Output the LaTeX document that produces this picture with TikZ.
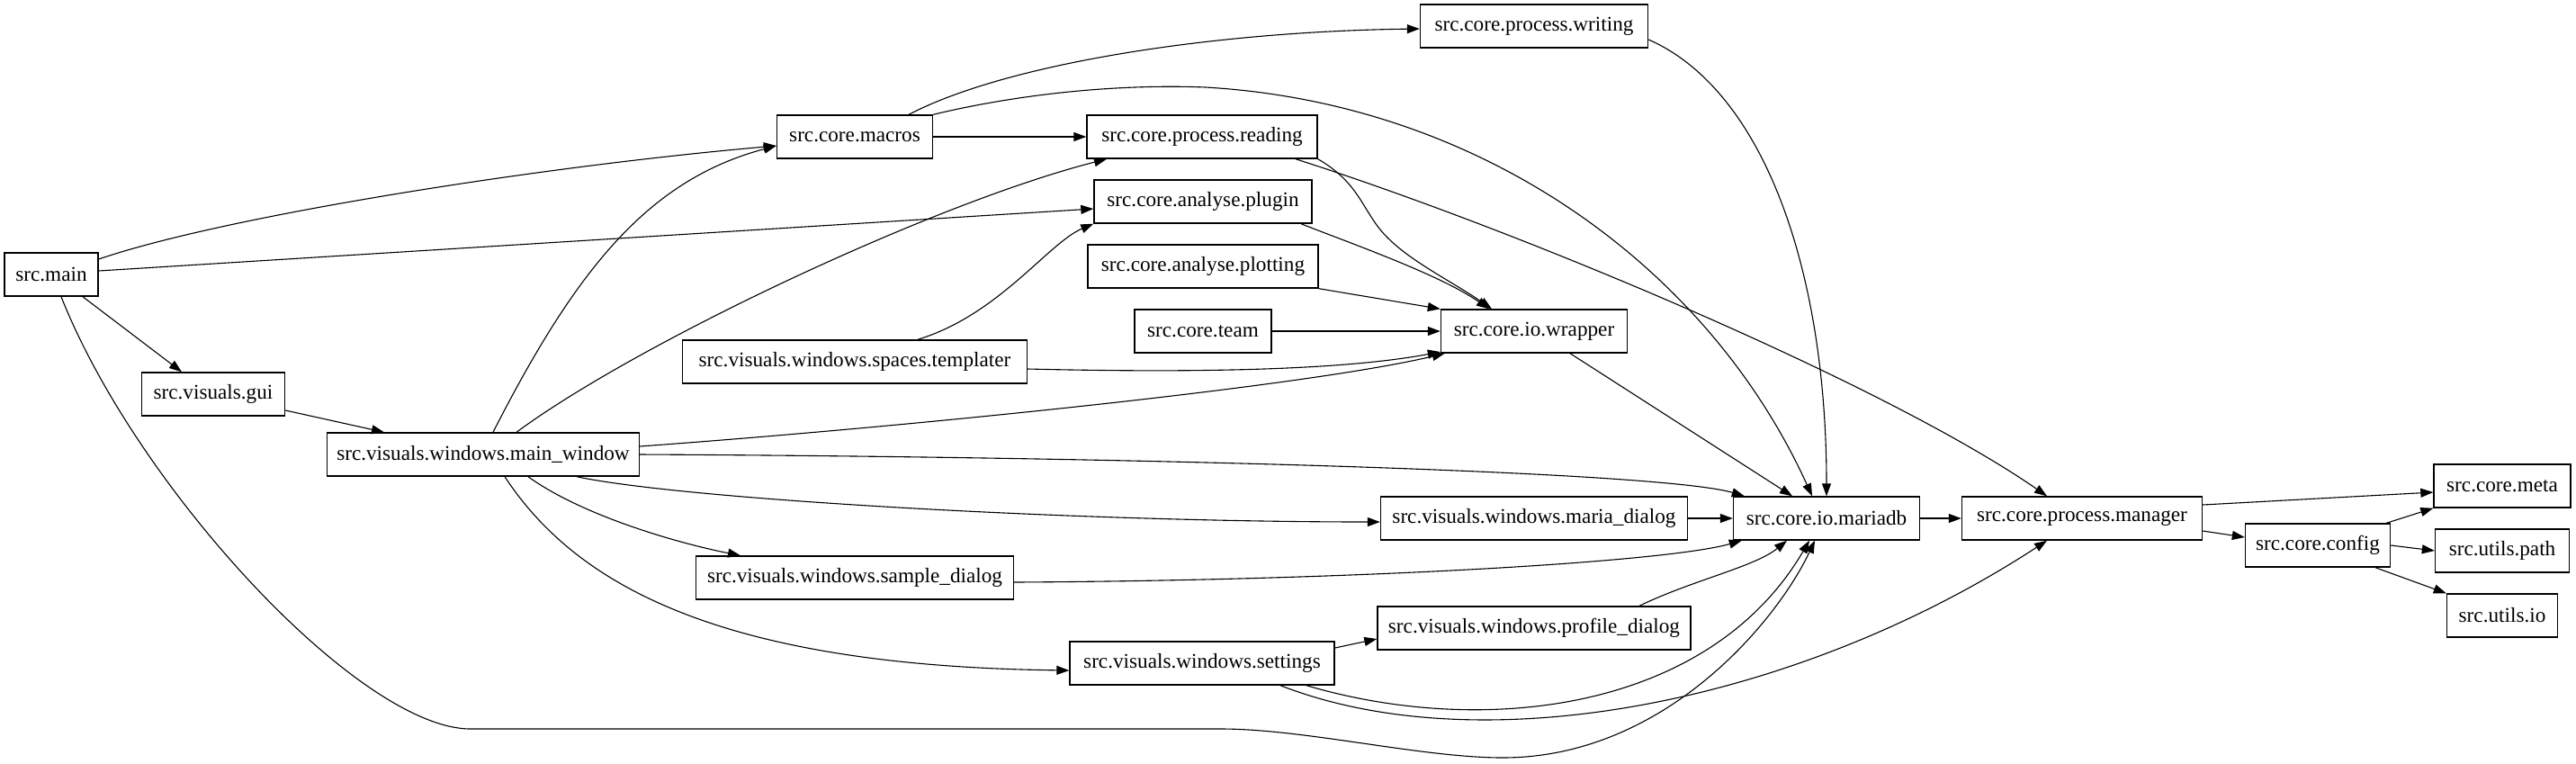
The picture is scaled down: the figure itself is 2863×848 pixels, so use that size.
\documentclass[tikz,border=0pt]{standalone}
\usepackage{fontspec}
\setmainfont{Liberation Serif}
\usetikzlibrary{arrows.meta}
\tikzset{
    % Module boxes
    modbox/.style={
        rectangle,
        draw=black,
        line width=0.7pt,
        minimum height=24pt,
        inner xsep=4pt,
        text centered,
        font=\fontsize{11.6}{14}\selectfont
    },
    % Import arrows
    deparrow/.style={
        -{Triangle[length=7pt,width=5pt]},
        line width=0.55pt,
        black
    }
}

\begin{document}
\begin{tikzpicture}[x=0.5pt,y=-0.5pt]
    \useasboundingbox (0,0) rectangle (2863,848);

    % Entry and windows
    \node[modbox,minimum width=52pt] (main) at (57,305) {src.main};
    \node[modbox,minimum width=79.5pt] (gui) at (237,438) {src.visuals.gui};
    \node[modbox,minimum width=173.5pt] (mainwin) at (537,505) {src.visuals.windows.main\_window};
    \node[modbox,minimum width=191.5pt] (templater) at (950,402) {src.visuals.windows.spaces.templater};
    \node[modbox,minimum width=176.5pt] (sample) at (950,642) {src.visuals.windows.sample\_dialog};
    \node[modbox,minimum width=147pt] (settings) at (1336,737) {src.visuals.windows.settings};
    \node[modbox,minimum width=170.5pt] (maria) at (1705,576) {src.visuals.windows.maria\_dialog};
    \node[modbox,minimum width=174pt] (profile) at (1705,698) {src.visuals.windows.profile\_dialog};

    % Core
    \node[modbox,minimum width=86.5pt] (macros) at (950,152) {src.core.macros};
    \node[modbox,minimum width=128pt] (reading) at (1336,152) {src.core.process.reading};
    \node[modbox,minimum width=121pt] (plugin) at (1337,224) {src.core.analyse.plugin};
    \node[modbox,minimum width=128pt] (plotting) at (1337,296) {src.core.analyse.plotting};
    \node[modbox,minimum width=76pt] (team) at (1337,368) {src.core.team};
    \node[modbox,minimum width=103.5pt] (wrapper) at (1705,368) {src.core.io.wrapper};
    \node[modbox,minimum width=126.5pt] (writing) at (1705,29) {src.core.process.writing};
    \node[modbox,minimum width=103.5pt] (mariadb) at (2030,576) {src.core.io.mariadb};
    \node[modbox,minimum width=133.5pt] (manager) at (2314,576) {src.core.process.manager};
    \node[modbox,minimum width=80.5pt] (config) at (2576,606) {src.core.config};

    % Leaves
    \node[modbox,minimum width=76pt] (meta) at (2781,540) {src.core.meta};
    \node[modbox,minimum width=74.5pt] (upath) at (2781,612) {src.utils.path};
    \node[modbox,minimum width=61.5pt] (uio) at (2781,684) {src.utils.io};

    % src.main
    \draw[deparrow] ([yshift=8.5pt]main.east) .. controls (250,240) and (600,185) .. ([yshift=-5pt]macros.west);
    \draw[deparrow] ([yshift=2pt]main.east) -- ([yshift=-4pt]plugin.west);
    \draw[deparrow] ([xshift=17.5pt]main.south) -- ([xshift=-17.5pt]gui.north);
    \draw[deparrow] ([xshift=5.5pt]main.south) .. controls (152,542) and (400,810) .. (523,810) -- (1357,810)
        .. controls (1450,810) and (1580,842) .. (1670,842) .. controls (1850,842) and (1975,690) .. ([xshift=-6.5pt]mariadb.south);

    % src.visuals.gui
    \draw[deparrow] ([yshift=-9pt]gui.east) -- ([xshift=-55pt]mainwin.north);

    % main window
    \draw[deparrow] ([xshift=5.5pt]mainwin.north) .. controls (640,300) and (720,200) .. ([yshift=-5pt]macros.west);
    \draw[deparrow] ([xshift=18.5pt]mainwin.north) .. controls (710,380) and (1040,225) .. ([xshift=-53pt]reading.south);
    \draw[deparrow] ([yshift=4.5pt]mainwin.east) .. controls (1000,475) and (1450,430) .. ([xshift=2.5pt]wrapper.south west);
    \draw[deparrow] (mainwin.east) .. controls (1300,508) and (1850,525) .. ([xshift=6.5pt]mariadb.north west);
    \draw[deparrow] ([xshift=52pt]mainwin.south) .. controls (760,555) and (1200,580) .. ([yshift=-2pt]maria.west);
    \draw[deparrow] ([xshift=25pt]mainwin.south) .. controls (650,575) and (760,605) .. ([xshift=-63.5pt]sample.north);
    \draw[deparrow] ([xshift=12pt]mainwin.south) .. controls (640,650) and (800,740) .. ([yshift=-4pt]settings.west);

    % templater
    \draw[deparrow] ([xshift=35pt]templater.north) .. controls (1110,350) and (1165,270) .. (plugin.south west);
    \draw[deparrow] ([yshift=-4pt]templater.east) .. controls (1350,415) and (1500,410) .. ([yshift=-11.5pt]wrapper.west);

    % macros
    \draw[deparrow] ([xshift=30pt]macros.north) .. controls (1120,70) and (1350,35) .. ([yshift=-1.5pt]writing.west);
    \draw[deparrow] (macros.east) -- (reading.west);
    \draw[deparrow] (macros.north east) .. controls (1130,105) and (1240,93) .. (1340,97)
        .. controls (1650,115) and (1900,300) .. ([xshift=-8pt]mariadb.north);

    % reading
    \draw[deparrow] (reading.south east) .. controls (1505,200) and (1512,225) .. (1530,250)
        .. controls (1555,285) and (1610,310) .. ([xshift=-23.5pt]wrapper.north);
    \draw[deparrow] ([xshift=52pt]reading.south) .. controls (1700,260) and (2100,430) .. ([xshift=-19.5pt]manager.north);

    % analyse and team
    \draw[deparrow] ([xshift=54.5pt]plugin.south) .. controls (1500,270) and (1600,305) .. ([xshift=-25pt]wrapper.north);
    \draw[deparrow] (plotting.south east) -- (wrapper.north west);
    \draw[deparrow] (team.east) -- (wrapper.west);

    % writing and wrapper
    \draw[deparrow] ([yshift=-7.5pt]writing.east) .. controls (1960,100) and (2030,300) .. (mariadb.north);
    \draw[deparrow] ([xshift=20pt]wrapper.south) -- ([xshift=-19pt]mariadb.north);

    % dialogs and settings
    \draw[deparrow] (maria.east) -- (mariadb.west);
    \draw[deparrow] ([yshift=-2.5pt]sample.east) .. controls (1500,645) and (1850,625) .. ([xshift=5pt]mariadb.south west);
    \draw[deparrow] ([xshift=58.5pt]profile.north) .. controls (1880,645) and (1950,630) .. ([xshift=-22pt]mariadb.south);
    \draw[deparrow] ([yshift=8.5pt]settings.east) -- ([yshift=-6pt]profile.west);
    \draw[deparrow] ([xshift=58pt]settings.south) .. controls (1650,820) and (1900,790) .. ([xshift=-9.5pt]mariadb.south);
    \draw[deparrow] ([xshift=43.5pt]settings.south) .. controls (1650,850) and (2000,780) .. ([xshift=-19.5pt]manager.south);

    % mariadb, manager, config
    \draw[deparrow] (mariadb.east) -- (manager.west);
    \draw[deparrow] ([yshift=7.5pt]manager.east) -- ([yshift=-3.5pt]meta.west);
    \draw[deparrow] ([yshift=-7pt]manager.east) -- ([yshift=4.5pt]config.west);
    \draw[deparrow] ([xshift=-2.5pt]config.north east) -- (meta.south west);
    \draw[deparrow] (config.east) -- (upath.west);
    \draw[deparrow] ([xshift=32pt]config.south) -- (uio.north west);
\end{tikzpicture}
\end{document}
